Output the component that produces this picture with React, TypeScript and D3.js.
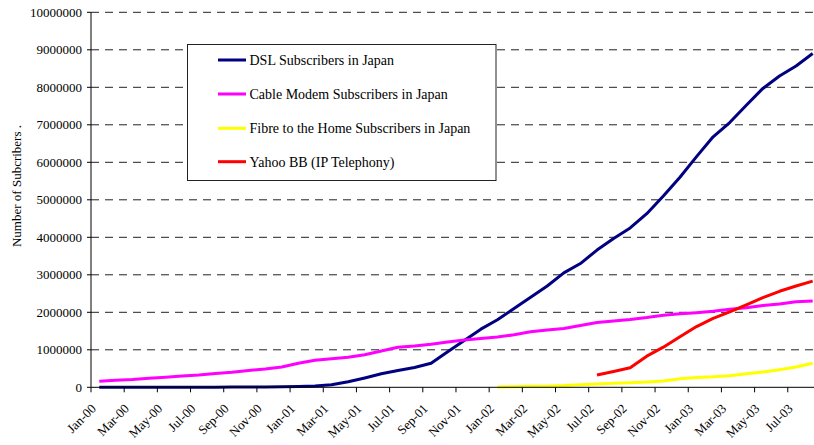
import React from "react";
import * as d3 from "d3";

const months = [
  "Jan-00","Feb-00","Mar-00","Apr-00","May-00","Jun-00","Jul-00","Aug-00","Sep-00","Oct-00","Nov-00","Dec-00",
  "Jan-01","Feb-01","Mar-01","Apr-01","May-01","Jun-01","Jul-01","Aug-01","Sep-01","Oct-01","Nov-01","Dec-01",
  "Jan-02","Feb-02","Mar-02","Apr-02","May-02","Jun-02","Jul-02","Aug-02","Sep-02","Oct-02","Nov-02","Dec-02",
  "Jan-03","Feb-03","Mar-03","Apr-03","May-03","Jun-03","Jul-03","Aug-03",
];

const dsl: (number | null)[] = [
  200, 300, 500, 800, 1200, 2000, 3000, 4500, 6000, 8000, 10000, 12000,
  20000, 35000, 70000, 150000, 250000, 360000, 450000, 530000, 640000, 950000, 1250000, 1550000,
  1800000, 2100000, 2400000, 2700000, 3050000, 3300000, 3660000, 3970000, 4250000, 4630000, 5100000, 5600000,
  6150000, 6680000, 7060000, 7520000, 7970000, 8300000, 8570000, 8900000,
];

const cable: (number | null)[] = [
  160000, 190000, 210000, 240000, 270000, 300000, 330000, 370000, 400000, 450000, 490000, 540000,
  640000, 720000, 760000, 800000, 870000, 970000, 1070000, 1100000, 1150000, 1210000, 1260000, 1300000,
  1340000, 1400000, 1480000, 1530000, 1570000, 1650000, 1730000, 1770000, 1810000, 1860000, 1920000, 1960000,
  1990000, 2030000, 2080000, 2120000, 2180000, 2220000, 2280000, 2300000,
];

const ftth: (number | null)[] = [
  null, null, null, null, null, null, null, null, null, null, null, null,
  null, null, null, null, null, null, null, null, null, null, null, null,
  10000, 15000, 25000, 30000, 45000, 70000, 90000, 105000, 120000, 140000, 170000, 230000,
  260000, 280000, 310000, 360000, 410000, 470000, 540000, 640000,
];

const yahoo: (number | null)[] = [
  null, null, null, null, null, null, null, null, null, null, null, null,
  null, null, null, null, null, null, null, null, null, null, null, null,
  null, null, null, null, null, null, 330000, 420000, 520000, 830000, 1070000, 1350000,
  1620000, 1840000, 2010000, 2200000, 2390000, 2560000, 2700000, 2830000,
];

const yTicks = [0, 1000000, 2000000, 3000000, 4000000, 5000000, 6000000, 7000000, 8000000, 9000000, 10000000];

const seriesNames = [
  "DSL Subscribers in Japan",
  "Cable Modem Subscribers in Japan",
  "Fibre to the Home Subscribers in Japan",
  "Yahoo BB (IP Telephony)",
];
const seriesColors = ["#000080", "#FF00FF", "#FFFF00", "#FF0000"];
const seriesData = [dsl, cable, ftth, yahoo];

const FONT = '"Liberation Serif", "Times New Roman", Times, "DejaVu Serif", serif';

export default function App() {
  const W = 814, H = 445;
  const left = 91, top = 12.3, bottom = 387.3;
  const monthW = 16.59;
  const right = left + months.length * monthW;

  const x = d3.scaleBand<number>().domain(months.map((_, i) => i)).range([left, right]).padding(0);
  const y = d3.scaleLinear().domain([0, 10000000]).range([bottom, top]);
  const cx = (i: number) => (x(i) as number) + x.bandwidth() / 2;

  const line = d3
    .line<number | null>()
    .defined((d) => d !== null)
    .x((_, i) => cx(i))
    .y((d) => y(d as number));

  const tickIdx = months.map((_, i) => i).filter((i) => i % 2 === 0);
  const ts = { fontFamily: FONT };

  return (
    <svg width={W} height={H} style={{ position: "fixed", left: 0, top: 0, background: "#fff", fontFamily: FONT }}>
      <rect x={0} y={0} width={W} height={H} fill="#fff" />
      {yTicks.filter((t) => t > 0).map((t) => (
        <line key={t} x1={left} x2={right} y1={y(t)} y2={y(t)} stroke="#222" strokeWidth={1}
          strokeDasharray="8,6" />
      ))}
      <rect x={187.5} y={44.5} width={308.5} height={136} fill="#fff" stroke="#222" strokeWidth={1} />
      {seriesData.map((d, k) => (
        <path key={k} d={line(d) || ""} fill="none" stroke={seriesColors[k]} strokeWidth={3}
          strokeLinejoin="round" strokeLinecap="butt" />
      ))}
      <line x1={left} x2={left} y1={top} y2={bottom} stroke="#000" strokeWidth={1} />
      {yTicks.map((t) => (
        <g key={t}>
          <line x1={left - 4} x2={left} y1={y(t)} y2={y(t)} stroke="#000" />
          <text x={82} y={y(t)} dy="0.35em" textAnchor="end" fontSize={13} fill="#000" style={ts}>{t}</text>
        </g>
      ))}
      <line x1={left} x2={right} y1={bottom} y2={bottom} stroke="#000" strokeWidth={1} />
      {tickIdx.map((i) => (
        <line key={i} x1={x(i) as number} x2={x(i) as number} y1={bottom} y2={bottom + 5} stroke="#000" />
      ))}
      {tickIdx.map((i) => (
        <text key={"l" + i} transform={`translate(${cx(i) - 2.5},${bottom + 22}) rotate(-45)`}
          textAnchor="end" fontSize={13} fill="#000" style={ts}>{months[i]}</text>
      ))}
      <text transform={`translate(21,186) rotate(-90)`} textAnchor="middle" fontSize={13} fill="#000" style={ts}>
        Number of Subcribers .
      </text>
      {seriesNames.map((n, k) => {
        const ly = [60, 94, 128.3, 161.7][k];
        return (
          <g key={n}>
            <line x1={218} x2={246} y1={ly} y2={ly} stroke={seriesColors[k]} strokeWidth={3} />
            <text x={249.5} y={ly} dy="0.35em" fontSize={14} fill="#000" style={ts}>{n}</text>
          </g>
        );
      })}
    </svg>
  );
}
